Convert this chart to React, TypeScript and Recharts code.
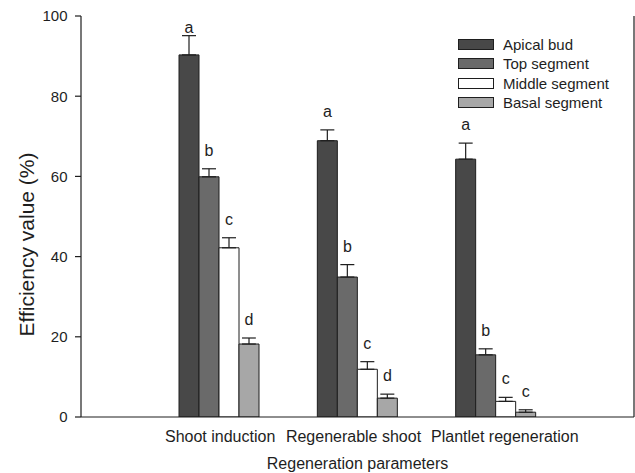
import React from 'react';
import {
  BarChart,
  Bar,
  XAxis,
  YAxis,
  ErrorBar,
  LabelList,
} from 'recharts';

// categories on the x axis
const categories = ['Shoot induction', 'Regenerable shoot', 'Plantlet regeneration'];

// mean efficiency (%) per explant type
const apicalBud = [90.3, 68.9, 64.3];
const topSegment = [59.9, 34.9, 15.5];
const middleSegment = [42.2, 11.9, 3.9];
const basalSegment = [18.2, 4.7, 1.2];

// standard errors (upper only)
const apicalErr = [4.8, 2.7, 4.0];
const topErr = [2.0, 3.1, 1.5];
const middleErr = [2.5, 1.9, 1.0];
const basalErr = [1.5, 1.0, 0.6];

// significance letters
const apicalLetters = ['a', 'a', 'a'];
const topLetters = ['b', 'b', 'b'];
const middleLetters = ['c', 'c', 'c'];
const basalLetters = ['d', 'd', 'c'];

const yTicks = [0, 20, 40, 60, 80, 100];

const FONT = '"Liberation Sans", Arial, Helvetica, sans-serif';
const INK = '#1e1e1e';

// the original spreads the category labels a little so they don't touch
const TICK_NUDGE = [1, -4, 9];

const series = [
  { key: 'apical', name: 'Apical bud', values: apicalBud, errs: apicalErr, letters: apicalLetters, fill: '#484848' },
  { key: 'top', name: 'Top segment', values: topSegment, errs: topErr, letters: topLetters, fill: '#6a6a6a' },
  { key: 'middle', name: 'Middle segment', values: middleSegment, errs: middleErr, letters: middleLetters, fill: '#ffffff' },
  { key: 'basal', name: 'Basal segment', values: basalSegment, errs: basalErr, letters: basalLetters, fill: '#a7a7a7' },
];

const data = categories.map((category, i) => {
  const row: Record<string, any> = { category };
  series.forEach((s) => {
    row[s.key] = s.values[i];
    row[s.key + 'Err'] = [0, s.errs[i]];
    row[s.key + 'Letter'] = s.letters[i];
  });
  return row;
});

const PLOT_TOP = 16;

// letter sits a little above the error cap
const makeLetter = (values: number[], errs: number[]) => (props: any) => {
  const { x, y, width, height, value, index } = props;
  const pxPerUnit = height / values[index];
  const capY = y - errs[index] * pxPerUnit;
  const baseline = Math.max(capY - 13, PLOT_TOP + 17);
  return (
    <text
      x={x + width / 2}
      y={baseline}
      textAnchor="middle"
      fontFamily={FONT}
      fontSize={16}
      fill={INK}
    >
      {value}
    </text>
  );
};

const CategoryTick = (props: any) => {
  const { x, y, payload, index } = props;
  return (
    <text
      x={x + (TICK_NUDGE[index] || 0)}
      y={y}
      dy="0.71em"
      textAnchor="middle"
      fontFamily={FONT}
      fontSize={16}
      fill={INK}
    >
      {payload.value}
    </text>
  );
};

// legend drawn over the plot, top right
const LegendBox = () => (
  <div
    style={{
      position: 'absolute',
      left: 458,
      top: 35,
      fontFamily: FONT,
      fontSize: 15,
      color: INK,
      lineHeight: 1,
    }}
  >
    {series.map((s) => (
      <div key={s.key} style={{ display: 'flex', alignItems: 'center', height: 19.3 }}>
        <div
          style={{
            width: 34,
            height: 9,
            background: s.fill,
            border: `1px solid ${INK}`,
            marginRight: 9,
          }}
        />
        <span>{s.name}</span>
      </div>
    ))}
  </div>
);

const YTitle = (props: any) => {
  const { viewBox } = props;
  const cx = 26;
  const cy = viewBox.y + viewBox.height / 2 + 28;
  return (
    <text
      x={cx}
      y={cy}
      transform={`rotate(-90, ${cx}, ${cy})`}
      textAnchor="middle"
      dominantBaseline="central"
      fontFamily={FONT}
      fontSize={21}
      fill={INK}
    >
      Efficiency value (%)
    </text>
  );
};

export default function App() {
  return (
    <div style={{ position: 'absolute', left: 0, top: 0, width: 635, height: 473, background: '#fff' }}>
      <BarChart
        width={635}
        height={473}
        data={data}
        margin={{ top: PLOT_TOP, right: 0, bottom: 0, left: 0 }}
        barSize={20}
        barGap={0}
      >
        <XAxis
          dataKey="category"
          height={56}
          interval={0}
          padding={{ left: 69, right: 69 }}
          tickLine={false}
          tickSize={0}
          tickMargin={14}
          axisLine={{ stroke: INK, strokeWidth: 1.2 }}
          tick={<CategoryTick />}
          label={{
            value: 'Regeneration parameters',
            position: 'insideBottom',
            offset: 4,
            fill: INK,
            fontSize: 16,
            fontFamily: FONT,
          }}
        />
        <XAxis
          xAxisId="frame"
          dataKey="category"
          orientation="top"
          height={0}
          tick={false}
          tickLine={false}
          axisLine={{ stroke: INK, strokeWidth: 1.2 }}
        />
        <YAxis
          width={81}
          domain={[0, 100]}
          ticks={yTicks}
          tickSize={6}
          tickMargin={7.5}
          allowDataOverflow
          axisLine={{ stroke: INK, strokeWidth: 1.2 }}
          tickLine={{ stroke: INK, strokeWidth: 1.2 }}
          tick={{ fill: INK, fontSize: 15, fontFamily: FONT }}
          label={<YTitle />}
        />
        <YAxis
          yAxisId="frame"
          orientation="right"
          width={1}
          domain={[0, 100]}
          tick={false}
          tickLine={false}
          axisLine={{ stroke: INK, strokeWidth: 1.2 }}
        />
        {series.map((s) => (
          <Bar
            key={s.key}
            dataKey={s.key}
            name={s.name}
            fill={s.fill}
            stroke={INK}
            strokeWidth={1}
            isAnimationActive={false}
          >
            <ErrorBar
              dataKey={s.key + 'Err'}
              direction="y"
              width={7}
              stroke={INK}
              strokeWidth={1.2}
            />
            <LabelList dataKey={s.key + 'Letter'} content={makeLetter(s.values, s.errs)} />
          </Bar>
        ))}
      </BarChart>
      <LegendBox />
    </div>
  );
}
